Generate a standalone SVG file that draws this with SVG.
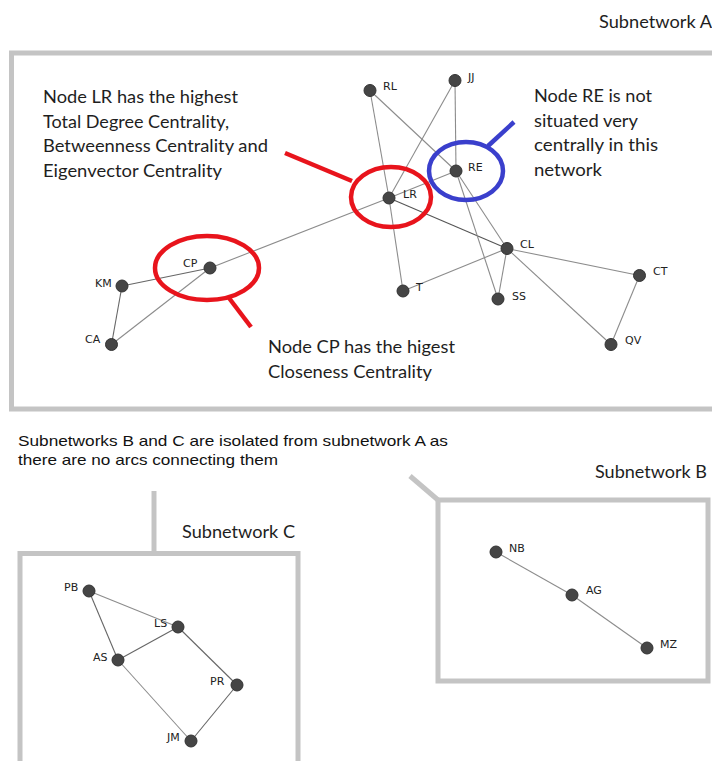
<svg xmlns="http://www.w3.org/2000/svg" width="712" height="761" viewBox="0 0 712 761">
<style>
.box{fill:none;stroke:#c4c4c4;stroke-width:5}
.e{stroke:#8c8c8c;stroke-width:1.1;fill:none}
.n{fill:#454545;stroke:#333;stroke-width:1}
.lbl{font-family:"DejaVu Sans",sans-serif;font-size:11px;fill:#222}
.note{font-family:Lato,"Open Sans",sans-serif;font-size:18px;fill:#1e1e1e}
.note2{font-family:"Liberation Sans",Arial,sans-serif;font-size:15px;fill:#111}
.red{fill:none;stroke:#e8141c;stroke-width:4.5}
.blue{fill:none;stroke:#3a3fcc;stroke-width:4.5}
</style>
<rect width="712" height="761" fill="#fff"/>
<g id="frames">
<rect class="box" x="11.5" y="53" width="720" height="356"/>
<rect class="box" x="20" y="553.5" width="278" height="240"/>
<line class="box" x1="154" y1="491" x2="154" y2="553"/>
<rect class="box" x="438" y="500" width="270" height="181"/>
<line class="box" x1="410" y1="476" x2="438" y2="500"/>
</g>
<g id="titles">
<text class="note" x="599" y="28" textLength="113" lengthAdjust="spacingAndGlyphs">Subnetwork A</text>
<text class="note" x="595" y="478" textLength="112" lengthAdjust="spacingAndGlyphs">Subnetwork B</text>
<text class="note" x="182" y="538" textLength="113" lengthAdjust="spacingAndGlyphs">Subnetwork C</text>
<text class="note2" x="18" y="446" textLength="430" lengthAdjust="spacingAndGlyphs">Subnetworks B and C are isolated from subnetwork A as</text>
<text class="note2" x="18" y="465" textLength="260" lengthAdjust="spacingAndGlyphs">there are no arcs connecting them</text>
</g>
<g id="connectors">
<line class="e" x1="370" y1="90.5" x2="389" y2="198"/>
<line class="e" x1="370" y1="90.5" x2="456" y2="171"/>
<line class="e" x1="455" y1="80.5" x2="456" y2="171"/>
<line class="e" x1="455" y1="80.5" x2="389" y2="198"/>
<line class="e" x1="389" y1="198" x2="456" y2="171"/>
<line class="e" x1="389" y1="198" x2="507" y2="248.5" style="stroke:#555"/>
<line class="e" x1="389" y1="198" x2="403" y2="291"/>
<line class="e" x1="389" y1="198" x2="210" y2="268"/>
<line class="e" x1="456" y1="171" x2="507" y2="248.5"/>
<line class="e" x1="456" y1="171" x2="498" y2="299"/>
<line class="e" x1="507" y1="248.5" x2="403" y2="291"/>
<line class="e" x1="507" y1="248.5" x2="498" y2="299"/>
<line class="e" x1="507" y1="248.5" x2="639.5" y2="275.5"/>
<line class="e" x1="507" y1="248.5" x2="611" y2="344.5"/>
<line class="e" x1="639.5" y1="275.5" x2="611" y2="344.5"/>
<line class="e" x1="210" y1="268" x2="122" y2="286" style="stroke:#666"/>
<line class="e" x1="210" y1="268" x2="111.5" y2="344.5"/>
<line class="e" x1="122" y1="286" x2="111.5" y2="344.5" style="stroke:#666"/>
<line class="e" x1="496" y1="552" x2="572" y2="595"/>
<line class="e" x1="572" y1="595" x2="647" y2="648"/>
<line class="e" x1="89" y1="591" x2="178" y2="627"/>
<line class="e" x1="89" y1="591" x2="118" y2="660" style="stroke:#666"/>
<line class="e" x1="118" y1="660" x2="178" y2="627" style="stroke:#666"/>
<line class="e" x1="178" y1="627" x2="237" y2="685" style="stroke:#666"/>
<line class="e" x1="118" y1="660" x2="191" y2="741"/>
<line class="e" x1="237" y1="685" x2="191" y2="741" style="stroke:#666"/>
</g>
<g id="RL"><circle class="n" cx="370" cy="90.5" r="6"/><text class="lbl" x="383" y="90">RL</text></g>
<g id="JJ"><circle class="n" cx="455" cy="80.5" r="6"/><text class="lbl" x="468" y="81">JJ</text></g>
<g id="RE"><circle class="n" cx="456" cy="171" r="6"/><text class="lbl" x="468" y="171">RE</text></g>
<g id="LR"><circle class="n" cx="389" cy="198" r="6"/><text class="lbl" x="403" y="198">LR</text></g>
<g id="CL"><circle class="n" cx="507" cy="248.5" r="6"/><text class="lbl" x="520" y="248">CL</text></g>
<g id="CT"><circle class="n" cx="639.5" cy="275.5" r="6"/><text class="lbl" x="653" y="275">CT</text></g>
<g id="SS"><circle class="n" cx="498" cy="299" r="6"/><text class="lbl" x="512" y="300">SS</text></g>
<g id="T"><circle class="n" cx="403" cy="291" r="6"/><text class="lbl" x="416" y="291">T</text></g>
<g id="QV"><circle class="n" cx="611" cy="344.5" r="6"/><text class="lbl" x="625" y="344">QV</text></g>
<g id="CP"><circle class="n" cx="210" cy="268" r="6"/><text class="lbl" x="183" y="267">CP</text></g>
<g id="KM"><circle class="n" cx="122" cy="286" r="6"/><text class="lbl" x="95" y="287">KM</text></g>
<g id="CA"><circle class="n" cx="111.5" cy="344.5" r="6"/><text class="lbl" x="85" y="343">CA</text></g>
<g id="NB"><circle class="n" cx="496" cy="552" r="6"/><text class="lbl" x="509" y="552">NB</text></g>
<g id="AG"><circle class="n" cx="572" cy="595" r="6"/><text class="lbl" x="586" y="594">AG</text></g>
<g id="MZ"><circle class="n" cx="647" cy="648" r="6"/><text class="lbl" x="660" y="648">MZ</text></g>
<g id="PB"><circle class="n" cx="89" cy="591" r="6"/><text class="lbl" x="64" y="591">PB</text></g>
<g id="LS"><circle class="n" cx="178" cy="627" r="6"/><text class="lbl" x="154" y="627">LS</text></g>
<g id="AS"><circle class="n" cx="118" cy="660" r="6"/><text class="lbl" x="93" y="661">AS</text></g>
<g id="PR"><circle class="n" cx="237" cy="685" r="6"/><text class="lbl" x="210" y="685">PR</text></g>
<g id="JM"><circle class="n" cx="191" cy="741" r="6"/><text class="lbl" x="167" y="741">JM</text></g>
<g id="highlights">
<ellipse class="red" cx="391" cy="197" rx="40" ry="30"/>
<line class="red" x1="285" y1="153" x2="352" y2="181"/>
<ellipse class="red" cx="207" cy="268" rx="52" ry="32"/>
<line class="red" x1="229" y1="298" x2="251" y2="327"/>
<ellipse class="blue" cx="466" cy="171" rx="37" ry="29"/>
<line class="blue" x1="488" y1="146" x2="514" y2="122"/>
</g>
<g id="notes">
<text class="note" x="43" y="103" textLength="195" lengthAdjust="spacingAndGlyphs">Node LR has the highest</text>
<text class="note" x="43" y="127.5" textLength="186" lengthAdjust="spacingAndGlyphs">Total Degree Centrality,</text>
<text class="note" x="43" y="152" textLength="225" lengthAdjust="spacingAndGlyphs">Betweenness Centrality and</text>
<text class="note" x="43" y="176.5" textLength="179" lengthAdjust="spacingAndGlyphs">Eigenvector Centrality</text>
<text class="note" x="534" y="102" textLength="118" lengthAdjust="spacingAndGlyphs">Node RE is not</text>
<text class="note" x="534" y="126.5" textLength="104" lengthAdjust="spacingAndGlyphs">situated very</text>
<text class="note" x="534" y="151" textLength="124" lengthAdjust="spacingAndGlyphs">centrally in this</text>
<text class="note" x="534" y="175.5" textLength="68" lengthAdjust="spacingAndGlyphs">network</text>
<text class="note" x="268" y="353" textLength="187" lengthAdjust="spacingAndGlyphs">Node CP has the higest</text>
<text class="note" x="268" y="377.5" textLength="164" lengthAdjust="spacingAndGlyphs">Closeness Centrality</text>
</g>
</svg>
